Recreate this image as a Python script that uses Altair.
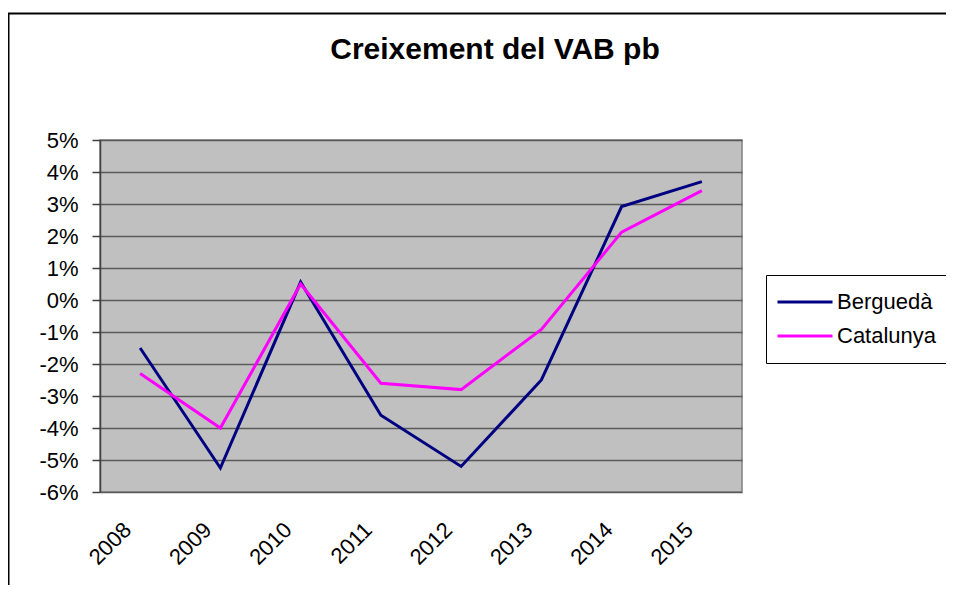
import altair as alt
import pandas as pd

years = ["2008", "2009", "2010", "2011", "2012", "2013", "2014", "2015"]
bergueda = [-1.5, -5.25, 0.56, -3.6, -5.2, -2.5, 2.92, 3.7]
catalunya = [-2.3, -4.0, 0.5, -2.6, -2.8, -0.92, 2.12, 3.42]
series_names = ["Berguedà", "Catalunya"]
series_colors = ["#000080", "#FF00FF"]
y_ticks = [-6, -5, -4, -3, -2, -1, 0, 1, 2, 3, 4, 5]

rows = []
for name, vals in zip(series_names, [bergueda, catalunya]):
    for yr, v in zip(years, vals):
        rows.append({"Any": yr, "Serie": name, "Valor": v})
df = pd.DataFrame(rows)

FONT = "Liberation Sans"

frame = alt.Chart(pd.DataFrame({"k": [0]})).mark_rect(
    fill="transparent", stroke="#000000", strokeWidth=2
).encode(
    x=alt.value(-91.5), x2=alt.value(900),
    y=alt.value(-126.5), y2=alt.value(600)
)

lines = alt.Chart(df).mark_line(strokeWidth=3).encode(
    x=alt.X("Any:O", sort=years,
            scale=alt.Scale(type="point", padding=0.5),
            axis=alt.Axis(title=None, labelAngle=-45, labelAlign="right",
                          labelBaseline="middle", labelPadding=34,
                          labelOffset=-13, ticks=False, tickSize=0,
                          domain=False, grid=False, labelFontSize=22,
                          labelFont=FONT, labelColor="#000000")),
    y=alt.Y("Valor:Q",
            scale=alt.Scale(domain=[-6, 5], nice=False, zero=False),
            axis=alt.Axis(title=None, values=y_ticks,
                          labelExpr="datum.value + '%'",
                          tickSize=8, tickColor="#404040", tickWidth=1.5,
                          labelPadding=14, labelFontSize=22, labelFont=FONT,
                          labelColor="#000000", domainColor="#404040",
                          domainWidth=1.5, gridColor="#5a5a5a",
                          gridWidth=1.5, gridOpacity=1)),
    color=alt.Color("Serie:N",
                    scale=alt.Scale(domain=series_names, range=series_colors),
                    legend=alt.Legend(title=None, orient="none",
                                      legendX=666, legendY=135,
                                      symbolType="stroke", symbolSize=3025,
                                      symbolStrokeWidth=3,
                                      labelFontSize=22, labelFont=FONT,
                                      labelColor="#000000", labelOffset=3,
                                      padding=10, rowPadding=0,
                                      clipHeight=34,
                                      strokeColor="#000000", fillColor="#FFFFFF"))
)

chart = alt.layer(frame, lines).properties(
    width=642, height=352,
    padding={"left": 92, "top": 132, "right": 204, "bottom": 93},
    autosize=alt.AutoSizeParams(type="none"),
    background="#FFFFFF",
    title=alt.TitleParams("Creixement del VAB pb", font=FONT, fontSize=30,
                          fontWeight="bold", color="#000000",
                          anchor="middle", frame="group", dx=74,
                          offset=0, dy=76, baseline="alphabetic")
).configure_view(
    fill="#C0C0C0", stroke="#808080", strokeWidth=1.5
)

chart.save("out.html", embed_options={"renderer": "svg", "actions": False})
